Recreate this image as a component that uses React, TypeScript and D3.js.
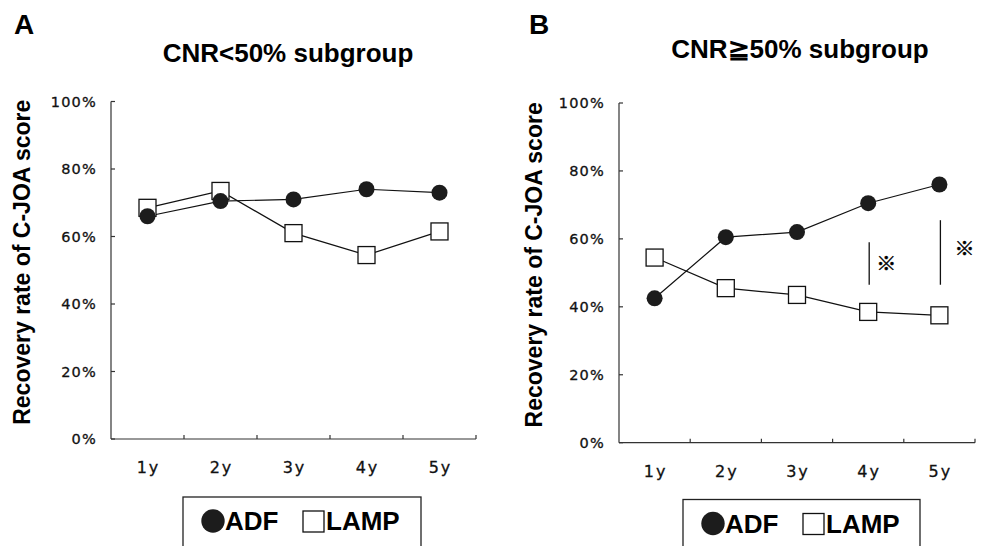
import * as d3 from "d3";
import React from "react";

const years = ["1y", "2y", "3y", "4y", "5y"];
const yTicks = [0, 20, 40, 60, 80, 100];

// panel A: CNR<50%
const adfA = [66, 70.5, 71, 74, 73];
const lampA = [68.5, 73.5, 61, 54.5, 61.5];
// panel B: CNR>=50%
const adfB = [42.5, 60.5, 62, 70.5, 76];
const lampB = [54.5, 45.5, 43.5, 38.5, 37.5];
// significance bars in panel B
const sigYears = ["4y", "5y"];
const sigLow = [46.5, 46.5];
const sigHigh = [59, 65.5];

const FONT = "'Liberation Sans', Arial, sans-serif";
const TICKFONT = "'DejaVu Sans', sans-serif";

function Panel(props: any) {
  const { letter, title, left, right, top, bottom, adf, lamp, sig, letterX, titleX, titleY, labelX, legend } = props;
  const x = d3.scaleBand().domain(years).range([left, right]);
  const y = d3.scaleLinear().domain([0, 100]).range([bottom, top]);
  const cx = (d: string) => (x(d) as number) + x.bandwidth() / 2;
  const line = d3.line<number>().x((_, i) => cx(years[i])).y((d) => y(d));
  const boundaries = years.map((d) => (x(d) as number) + x.bandwidth());

  return (
    <g>
      <text x={letterX} y={34} fontFamily={FONT} fontWeight="bold" fontSize={28}>{letter}</text>
      <text x={titleX} y={titleY} textAnchor="middle" fontFamily={FONT} fontWeight="bold" fontSize={26}>{title}</text>
      <text transform={`translate(${labelX},${(top + bottom) / 2 - 8}) rotate(-90)`} textAnchor="middle"
        fontFamily={FONT} fontWeight="bold" fontSize={23}>Recovery rate of C-JOA score</text>

      {/* axes */}
      <line x1={left} x2={left} y1={top} y2={bottom} stroke="#333" strokeWidth={1.2} />
      <line x1={left} x2={right} y1={bottom} y2={bottom} stroke="#333" strokeWidth={1.2} />
      {yTicks.map((t) => (
        <g key={t}>
          <line x1={left} x2={left + 4} y1={y(t)} y2={y(t)} stroke="#333" strokeWidth={1.2} />
          <text x={left - 14} y={y(t) + 5} textAnchor="end" fontFamily={TICKFONT} fontSize={14.5} letterSpacing={1.2}
            fill="#111" stroke="#111" strokeWidth={0.3}>{t + "%"}</text>
        </g>
      ))}
      {boundaries.map((b, i) => (
        <line key={i} x1={b} x2={b} y1={bottom} y2={bottom - 4} stroke="#333" strokeWidth={1.2} />
      ))}
      {years.map((d) => (
        <text key={d} x={cx(d) + 1} y={bottom + 34} textAnchor="middle" fontFamily={TICKFONT} fontSize={16} letterSpacing={2}
          fill="#111" stroke="#111" strokeWidth={0.3}>{d}</text>
      ))}

      {/* series */}
      <path d={line(lamp) as string} fill="none" stroke="#111" strokeWidth={1.2} />
      <path d={line(adf) as string} fill="none" stroke="#111" strokeWidth={1.2} />
      {lamp.map((v: number, i: number) => (
        <rect key={"l" + i} x={cx(years[i]) - 8.5} y={y(v) - 8.5} width={17} height={17} fill="#fff" stroke="#111" strokeWidth={1.3} />
      ))}
      {adf.map((v: number, i: number) => (
        <circle key={"a" + i} cx={cx(years[i])} cy={y(v)} r={8} fill="#1c1c1c" />
      ))}

      {sig && sig.years.map((d: string, i: number) => (
        <g key={d}>
          <line x1={cx(d) + 1} x2={cx(d) + 1} y1={y(sig.high[i])} y2={y(sig.low[i])} stroke="#111" strokeWidth={1.3} />
          <text x={cx(d) + (i === 0 ? 18 : 25)} y={y((sig.high[i] + sig.low[i]) / 2) + (i === 0 ? 2 : -2)}
            textAnchor="middle" dominantBaseline="middle" fill="#000" stroke="#000" strokeWidth={0.5}
            fontFamily="'Noto Sans CJK JP', sans-serif" fontSize={20}>※</text>
        </g>
      ))}

      {/* legend */}
      <rect x={legend.x} y={legend.y} width={legend.w} height={60} fill="#fff" stroke="#222" strokeWidth={1.3} />
      <circle cx={legend.x + 30} cy={legend.y + 24} r={11.7} fill="#1c1c1c" />
      <text x={legend.x + 42} y={legend.y + 33} fontFamily={FONT} fontWeight="bold" fontSize={26}>ADF</text>
      <rect x={legend.x + 120} y={legend.y + 14} width={21} height={21} fill="#fff" stroke="#111" strokeWidth={1.3} />
      <text x={legend.x + 143} y={legend.y + 33} fontFamily={FONT} fontWeight="bold" fontSize={26}>LAMP</text>
    </g>
  );
}

export default function App() {
  return (
    <svg width={986} height={546} style={{ position: "absolute", left: 0, top: 0, background: "#fff" }}>
      <rect width={986} height={546} fill="#fff" />
      <Panel letter="A" title="CNR<50% subgroup" left={111} right={476} top={101.5} bottom={439}
        adf={adfA} lamp={lampA} letterX={14} titleX={288} titleY={62} labelX={30}
        legend={{ x: 183, y: 497, w: 238 }} />
      <Panel letter="B" title="CNR≧50% subgroup" left={619} right={975} top={103} bottom={442.7}
        adf={adfB} lamp={lampB} letterX={529} titleX={800} titleY={58} labelX={542}
        sig={{ years: sigYears, low: sigLow, high: sigHigh }}
        legend={{ x: 683, y: 499.5, w: 237 }} />
    </svg>
  );
}
